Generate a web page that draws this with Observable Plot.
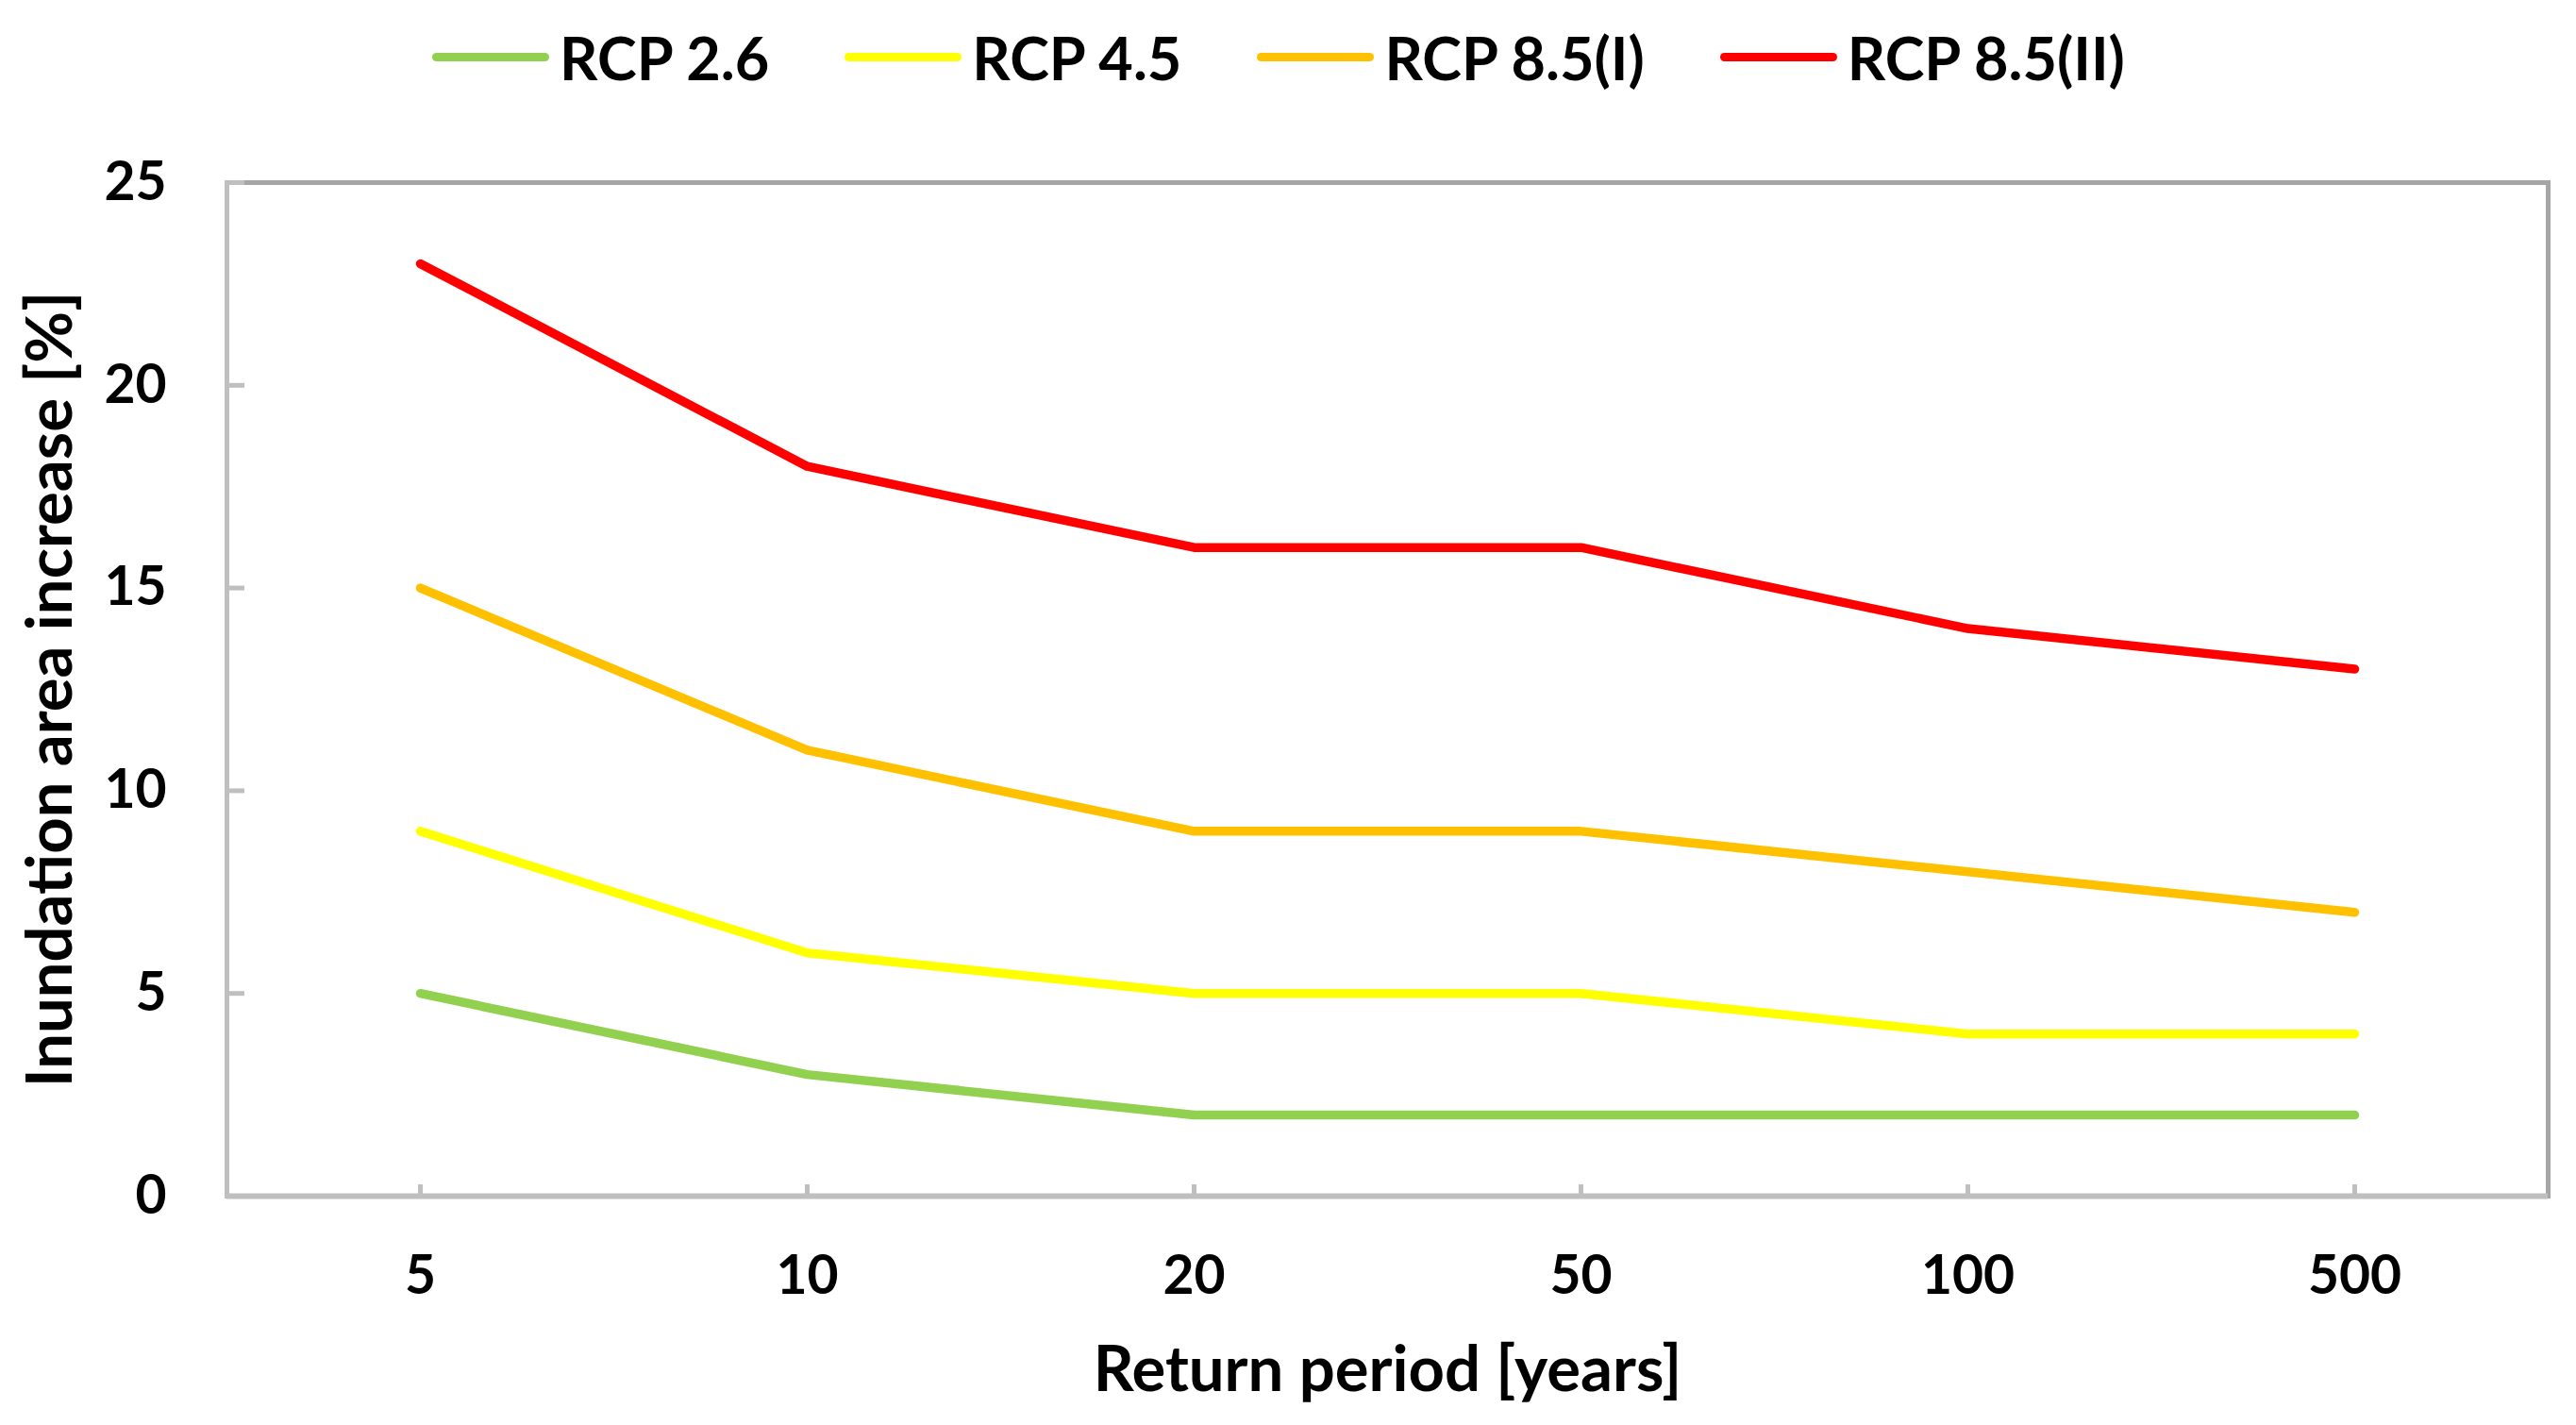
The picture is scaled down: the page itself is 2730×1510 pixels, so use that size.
<!DOCTYPE html>
<html>
<head>
<meta charset="utf-8">
<script src="https://cdn.jsdelivr.net/npm/d3@7"></script>
<script src="https://cdn.jsdelivr.net/npm/@observablehq/plot@0.6"></script>
<style>
  html, body { margin: 0; padding: 0; background: #fff; }
  #wrap { width: 2730px; height: 1510px; font-family: Lato, "Open Sans", sans-serif; font-weight: bold; }
  #legend { height: 120px; display: flex; justify-content: center; align-items: center; padding-right: 20px; box-sizing: border-box; }
  .item { display: flex; align-items: center; margin: 0 40px; font-size: 63px; color: #000; }
  .sw { width: 124px; height: 9px; border-radius: 5px; margin-right: 11px; }
  svg { display: block; }
</style>
</head>
<body>
<div id="wrap">
  <div id="legend"></div>
  <div id="chart"></div>
</div>
<script>
const periods = ["5", "10", "20", "50", "100", "500"];
const seriesNames = ["RCP 2.6", "RCP 4.5", "RCP 8.5(I)", "RCP 8.5(II)"];
const seriesColors = ["#92d050", "#ffff00", "#ffc000", "#ff0000"];
const rcp26 = [5, 3, 2, 2, 2, 2];
const rcp45 = [9, 6, 5, 5, 4, 4];
const rcp85I = [15, 11, 9, 9, 8, 7];
const rcp85II = [23, 18, 16, 16, 14, 13];
const yTicks = [0, 5, 10, 15, 20, 25];
const xTitle = "Return period [years]";
const yTitle = "Inundation area increase [%]";

const seriesValues = [rcp26, rcp45, rcp85I, rcp85II];
const data = [];
seriesNames.forEach((name, i) => {
  seriesValues[i].forEach((v, j) => data.push({series: name, period: periods[j], value: v}));
});

// legend
const legend = document.getElementById("legend");
seriesNames.forEach((name, i) => {
  const it = document.createElement("div");
  it.className = "item";
  const sw = document.createElement("div");
  sw.className = "sw";
  sw.style.background = seriesColors[i];
  const tx = document.createElement("span");
  tx.textContent = name;
  it.appendChild(sw);
  it.appendChild(tx);
  legend.appendChild(it);
});

const font = "Lato, 'Open Sans', sans-serif";
const chart = Plot.plot({
  width: 2730,
  height: 1390,
  marginTop: 73,
  marginBottom: 243,
  marginLeft: 240,
  marginRight: 30,
  style: {fontFamily: font, fontWeight: "bold", background: "white", overflow: "visible"},
  x: {type: "point", domain: periods, padding: 0.5, label: null},
  y: {domain: [0, 25], label: null},
  color: {domain: seriesNames, range: seriesColors},
  marks: [
    Plot.frame({stroke: "#a6a6a6", strokeWidth: 5}),
    Plot.frame({anchor: "left", stroke: "#bfbfbf", strokeWidth: 5}),
    Plot.ruleY([0], {stroke: "#bfbfbf", strokeWidth: 6}),
    Plot.axisY({ticks: yTicks, tickSize: -19, tickPadding: 83, stroke: "#bfbfbf", strokeWidth: 5,
      fontSize: 57, fontWeight: "bold", fill: "#000", label: null, tickFormat: d => String(d)}),
    Plot.axisX({tickSize: -12, tickPadding: 75, stroke: "#bfbfbf", strokeWidth: 5,
      fontSize: 57, fontWeight: "bold", fill: "#000", label: null}),
    Plot.line(data, {x: "period", y: "value", z: "series", stroke: "series", strokeWidth: 9.5,
      strokeLinecap: "round", strokeLinejoin: "round"}),
    Plot.text([xTitle], {frameAnchor: "bottom", dy: 185, lineAnchor: "middle", textAnchor: "middle",
      fontSize: 67, fontWeight: "bold", fill: "#000"}),
    Plot.text([yTitle], {frameAnchor: "left", dx: -186, rotate: -90, lineAnchor: "middle", textAnchor: "middle",
      fontSize: 67, fontWeight: "bold", fill: "#000"})
  ]
});
document.getElementById("chart").appendChild(chart);
</script>
</body>
</html>
